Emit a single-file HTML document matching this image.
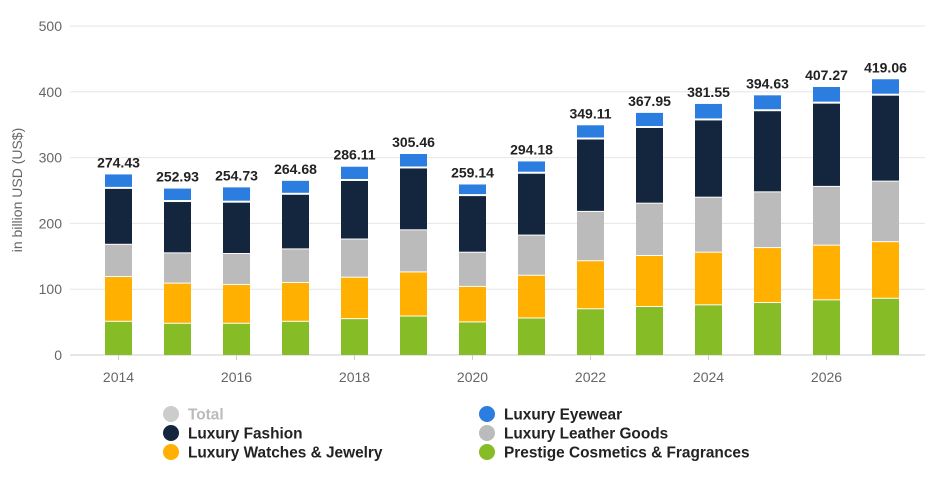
<!DOCTYPE html>
<html><head><meta charset="utf-8"><style>
body{margin:0;background:#fff;font-family:"Liberation Sans",sans-serif}
svg text{font-family:"Liberation Sans",sans-serif}
</style></head><body>
<svg id="c" width="925" height="478"></svg>
<script>
const years=[2014,2015,2016,2017,2018,2019,2020,2021,2022,2023,2024,2025,2026,2027];
const cosmetics=[52,49,49,52,56,60,51,57,71,74.5,77,80.5,84.6,87];
const watches=[68,61,59,59,63,67,54,65,73,77.5,80,83.5,83.1,86];
const leather=[49,46,47,51,58,64,52,61,75,79.5,83.6,84.7,89.3,92];
const fashion=[85,78,78,83,89,94,86,94,110,115,117.4,123.3,126.5,130.6];
const totals=[274.43,252.93,254.73,264.68,286.11,305.46,259.14,294.18,349.11,367.95,381.55,394.63,407.27,419.06];
const yTicks=[0,100,200,300,400,500];
const xTicks=[2014,2016,2018,2020,2022,2024,2026];
const NS="http://www.w3.org/2000/svg";
const svg=document.getElementById('c');
function el(t,a,txt){const e=document.createElementNS(NS,t);for(const k in a)e.setAttribute(k,a[k]);if(txt!=null)e.textContent=txt;svg.appendChild(e);return e;}
const y=v=>355-v*0.658;
const x=yr=>118.5+(yr-2014)*59;
const bw=27;
yTicks.forEach(t=>{
 const g=el('line',{x1:70,x2:925,y1:y(t),y2:y(t),stroke:t==0?'#ccc':'#e6e6e6','stroke-width':1});
 
 
 const l=el('text',{x:62,y:y(t)+5,'text-anchor':'end','font-size':14,fill:'#666'},t);
 
 
});
xTicks.forEach(t=>{
 const l=el('text',{x:x(t),y:382,'text-anchor':'middle','font-size':14,fill:'#666'},t);
 
 
 const tk=el('line',{x1:x(t),x2:x(t),y1:355,y2:360,stroke:'#ccc'});
 
 
});
const yt=el('text',{x:0,y:0,transform:'translate(22,190) rotate(-90)','text-anchor':'middle','font-size':14,fill:'#666'},'in billion USD (US$)');


const series=[[cosmetics,'#86bc25','cosmetics'],[watches,'#ffb000','watches'],[leather,'#bbbbbb','leather'],[fashion,'#14263e','fashion']];
years.forEach((yr,i)=>{
 let base=0;
 series.forEach(([arr,col,nm])=>{
  const v=arr[i];
  const r=el('rect',{x:x(yr)-bw/2,y:y(base+v)+1,width:bw,height:Math.max(0,v*0.658-1),fill:col});
  
  
  base+=v;
 });
 const ev=totals[i]-base;
 const r=el('rect',{x:x(yr)-bw/2,y:y(totals[i]),width:bw,height:Math.max(0,ev*0.658-1),fill:'#2b7de0'});
 
 
 const lb=el('text',{x:x(yr),y:y(totals[i])-7,'text-anchor':'middle','font-size':14,'font-weight':'bold',fill:'#222'},totals[i].toFixed(2));
 
 
});
const legend=[[171,414,'#cccccc','Total','#bbb'],[487,414,'#2b7de0','Luxury Eyewear','#222'],[171,433,'#14263e','Luxury Fashion','#222'],[487,433,'#bbbbbb','Luxury Leather Goods','#222'],[171,452,'#ffb000','Luxury Watches & Jewelry','#222'],[487,452,'#86bc25','Prestige Cosmetics & Fragrances','#222']];
legend.forEach(([lx,ly,c,t,tc])=>{
 const m=el('circle',{cx:lx,cy:ly,r:8,fill:c});
 
 
 const tx=el('text',{x:lx+17,y:ly+5.5,'font-size':15.4,'font-weight':'bold',fill:tc},t);
 
 
});
</script>
</body></html>
